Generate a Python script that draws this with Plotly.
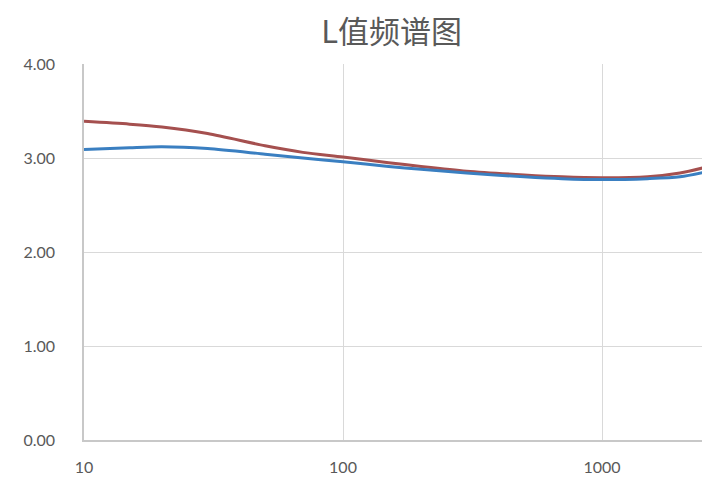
import plotly.graph_objects as go

# Frequency points (Hz) and L values of the two measured series
freq = [10, 15, 20, 30, 50, 70, 100, 150, 200, 300, 500, 700, 1000, 1500, 2000, 2500]
l_red = [3.39, 3.36, 3.33, 3.26, 3.13, 3.06, 3.01, 2.95, 2.91, 2.86, 2.82, 2.80, 2.79, 2.80, 2.84, 2.90]
l_blue = [3.09, 3.11, 3.12, 3.10, 3.04, 3.00, 2.96, 2.91, 2.88, 2.84, 2.80, 2.78, 2.77, 2.78, 2.80, 2.85]

y_ticks = [0, 1, 2, 3, 4]
y_labels = ["0.00", "1.00", "2.00", "3.00", "4.00"]
x_ticks = [10, 100, 1000]
x_labels = ["10", "100", "1000"]

fig = go.Figure()
fig.add_trace(go.Scatter(x=freq, y=l_red, mode="lines",
                         line=dict(color="#a5504f", width=3, shape="spline", smoothing=0.8)))
fig.add_trace(go.Scatter(x=freq, y=l_blue, mode="lines",
                         line=dict(color="#3a7fc1", width=3, shape="spline", smoothing=0.8)))

tick_font = dict(family="Lato, Carlito, sans-serif", size=16, color="#595959")

fig.update_layout(
    width=702, height=480,
    margin=dict(l=84, r=0, t=64, b=40),
    paper_bgcolor="white", plot_bgcolor="white",
    showlegend=False,
    title=dict(text="L值频谱图", x=0.558, xanchor="center", y=0.932, yanchor="middle",
               font=dict(family="Noto Sans CJK SC", size=31, color="#595959")),
    xaxis=dict(type="log", range=[1, 3.386], tickvals=x_ticks, ticktext=x_labels,
               showgrid=True, gridcolor="#d9d9d9", gridwidth=1,
               showline=True, linecolor="#c8c8c8", linewidth=1.5,
               ticks="", zeroline=False, tickfont=tick_font, ticklabelstandoff=12),
    yaxis=dict(range=[0, 4], tickvals=y_ticks, ticktext=y_labels,
               showgrid=True, gridcolor="#d9d9d9", gridwidth=1,
               showline=True, linecolor="#c8c8c8", linewidth=1.5,
               ticks="", zeroline=False, tickfont=tick_font, ticklabelstandoff=24),
)

fig.write_html("out.html")
